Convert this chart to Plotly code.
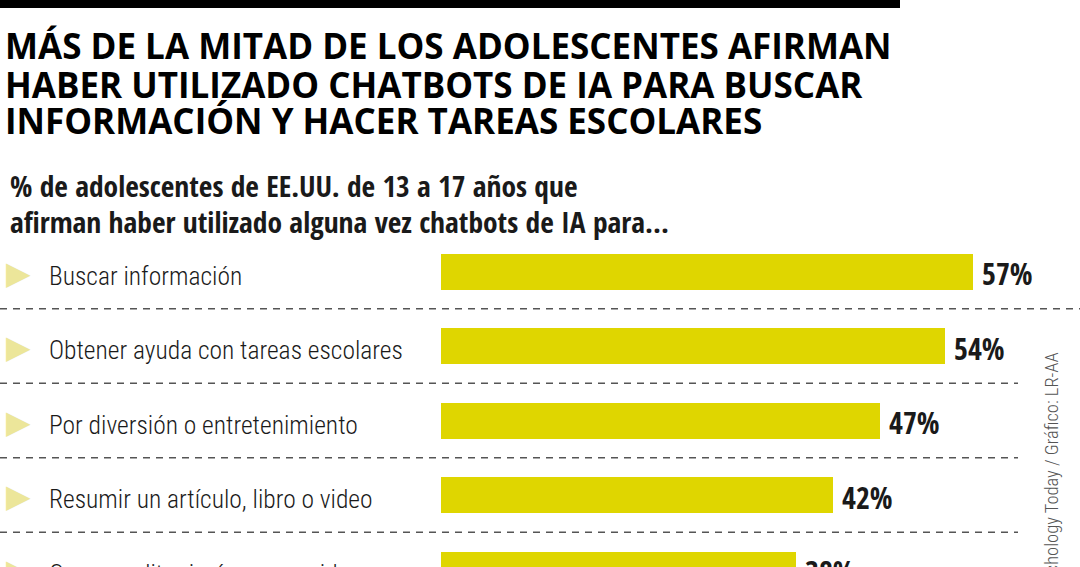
import plotly.graph_objects as go

categories = [
    "Buscar información",
    "Obtener ayuda con tareas escolares",
    "Por diversión o entretenimiento",
    "Resumir un artículo, libro o video",
    "Crear o editar imágenes o videos",
]
values = [57, 54, 47, 42, 38]
value_labels = ["57%", "54%", "47%", "42%", "38%"]

title_lines = [
    "MÁS DE LA MITAD DE LOS ADOLESCENTES AFIRMAN",
    "HABER UTILIZADO CHATBOTS DE IA PARA BUSCAR",
    "INFORMACIÓN Y HACER TAREAS ESCOLARES",
]
subtitle_lines = [
    "% de adolescentes de EE.UU. de 13 a 17 años que",
    "afirman haber utilizado alguna vez chatbots de IA para...",
]
source_text = "Fuente: Psychology Today / Gráfico: LR-AA"

# The window shows the top 1080x567 of a slightly taller figure (as in the cropped reference)
W, H = 1080, 610
ML, MR, MT, MB = 441, 0, 240, 0
PW, PH = W - ML - MR, H - MT - MB
PX_PER_UNIT = 532 / 57.0
PITCH = 74.5
Y0 = 271.5

def px_x(px):
    return (px - ML) / PW

def px_y(py):
    return (H - py) / PH

TITLE_FONT = "Open Sans, DejaVu Sans Condensed, sans-serif"
BOLD = "Open Sans Condensed, Roboto Condensed, DejaVu Sans Condensed, sans-serif"
LIGHT = "Roboto Condensed, Open Sans Condensed Light, DejaVu Sans Condensed, sans-serif"
BAR = "#DFD600"
TRI = "#ECE69A"
INK = "#1a1a1a"

ypos = list(range(len(categories)))

fig = go.Figure()
fig.add_trace(go.Bar(
    x=values, y=ypos, orientation="h",
    marker=dict(color=BAR, line=dict(width=0)),
    width=36 / PITCH, hoverinfo="skip",
))

ann = []
for py, t in zip([45, 84, 121], title_lines):
    ann.append(dict(text=t, xref="paper", yref="paper", x=px_x(3), y=px_y(py),
                    xanchor="left", yanchor="middle", showarrow=False,
                    font=dict(family=TITLE_FONT, size=35, color="#000000", weight="bold")))
for i, t in enumerate(subtitle_lines):
    ann.append(dict(text=t, xref="paper", yref="paper", x=px_x(8), y=px_y(186 + 35 * i),
                    xanchor="left", yanchor="middle", showarrow=False,
                    font=dict(family=BOLD, size=29.5, color=INK, weight="bold")))
for i, c in enumerate(categories):
    ann.append(dict(text=c, xref="paper", yref="y", x=px_x(47), y=i, yshift=-4,
                    xanchor="left", yanchor="middle", showarrow=False,
                    font=dict(family=LIGHT, size=25.5, color=INK, weight=300)))
    ann.append(dict(text="▶", xref="paper", yref="y", x=px_x(4), y=i, yshift=-1,
                    xanchor="left", yanchor="middle", showarrow=False,
                    font=dict(family="DejaVu Sans", size=32, color=TRI)))
for i, (v, lab) in enumerate(zip(values, value_labels)):
    ann.append(dict(text=lab, xref="x", yref="y", x=v, y=i, xshift=7, yshift=-2,
                    xanchor="left", yanchor="middle", showarrow=False,
                    font=dict(family=BOLD, size=30, color=INK, weight="bold")))
ann.append(dict(text=source_text, xref="paper", yref="paper", x=px_x(1052), y=px_y(350),
                xanchor="center", yanchor="top", textangle=-90, showarrow=False,
                font=dict(family=LIGHT, size=18.5, color="#555555", weight=300)))

shapes = [dict(type="rect", xref="paper", yref="paper", x0=px_x(0), x1=px_x(900),
               y0=px_y(0), y1=px_y(8), fillcolor="#000000", line=dict(width=0), layer="above")]
for i in range(len(categories) - 1):
    x_end = 1080 if i == 0 else 1018
    shapes.append(dict(type="line", xref="paper", yref="y", x0=px_x(0), x1=px_x(x_end),
                       y0=i + 0.5, y1=i + 0.5,
                       line=dict(color="#555555", width=1.5, dash="7px,6px")))

fig.update_layout(
    width=W, height=H,
    margin=dict(l=ML, r=MR, t=MT, b=MB),
    paper_bgcolor="white", plot_bgcolor="white",
    showlegend=False,
    xaxis=dict(range=[0, PW / PX_PER_UNIT], visible=False, fixedrange=True),
    yaxis=dict(range=[(H - Y0) / PITCH, -(Y0 - MT) / PITCH], visible=False, fixedrange=True),
    annotations=ann, shapes=shapes,
    bargap=0,
)
fig.write_html(
    "out.html", config={"displayModeBar": False},
    post_script="document.body.style.margin='0';document.body.style.overflow='hidden';"
                "document.documentElement.style.overflow='hidden';",
)
